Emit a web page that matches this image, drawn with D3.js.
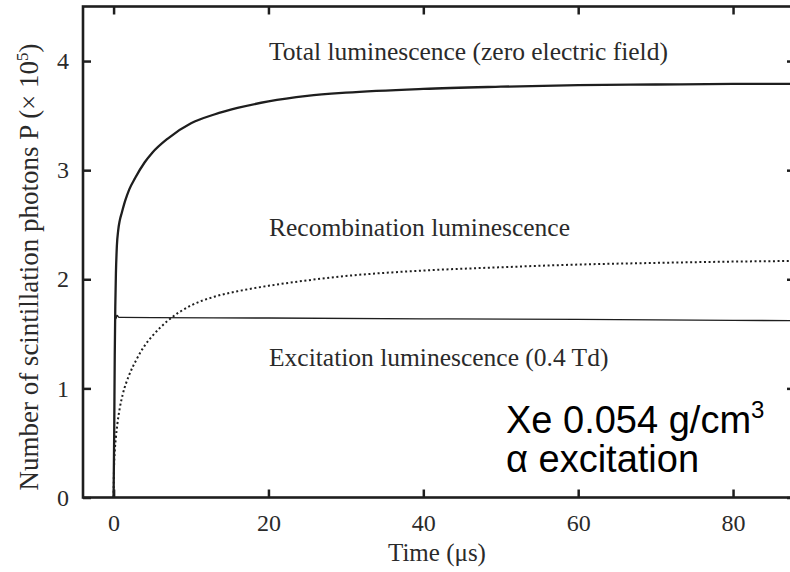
<!DOCTYPE html>
<html>
<head>
<meta charset="utf-8">
<script src="https://cdn.jsdelivr.net/npm/d3@7/dist/d3.min.js"></script>
<style>
  html, body { margin: 0; padding: 0; background: #fff; }
  svg { display: block; }
  .tick text { font-family: "Liberation Serif", "Times New Roman", serif; font-size: 24px; fill: #2a2a2a; }
</style>
</head>
<body>
<svg id="chart" width="790" height="572"></svg>
<script>
// Scintillation photon yield vs. time, Xe gas, alpha excitation
const xTicks = [0, 20, 40, 60, 80];
const yTicks = [0, 1, 2, 3, 4];

// Total luminescence (zero electric field)
const totalTime  = [0, 0.08, 0.15, 0.22, 0.3, 0.42, 0.6, 0.8, 1.06, 1.5, 2, 2.8, 4, 5, 7, 10, 13, 16, 20, 25, 30, 40, 50, 60, 70, 80, 88];
const totalValue = [0, 0.6, 1.3, 1.75, 2.05, 2.3, 2.45, 2.54, 2.61, 2.72, 2.82, 2.93, 3.07, 3.16, 3.29, 3.43, 3.51, 3.57, 3.63, 3.68, 3.71, 3.745, 3.765, 3.78, 3.785, 3.79, 3.79];

// Recombination luminescence
const recombTime  = [0, 0.05, 0.15, 0.3, 0.5, 0.8, 1.2, 2, 3, 4, 5, 7, 10, 13, 16, 20, 25, 30, 40, 50, 60, 70, 80, 88];
const recombValue = [0, 0.25, 0.42, 0.55, 0.68, 0.82, 0.95, 1.12, 1.27, 1.39, 1.48, 1.62, 1.76, 1.84, 1.89, 1.94, 1.99, 2.03, 2.08, 2.11, 2.135, 2.15, 2.162, 2.168];

// Excitation luminescence (0.4 Td)
const exciteTime  = [0.18, 0.25, 0.32, 0.45, 0.7, 1, 5, 20, 40, 60, 80, 88];
const exciteValue = [1.55, 1.68, 1.64, 1.67, 1.65, 1.65, 1.648, 1.645, 1.638, 1.632, 1.624, 1.62];

const labels = [
  { text: "Total luminescence (zero electric field)", x: 269, y: 60 },
  { text: "Recombination luminescence", x: 269, y: 236 },
  { text: "Excitation luminescence (0.4 Td)", x: 269, y: 366 }
];

const svg = d3.select("#chart");
const plotLeft = 83, plotRight = 795, plotTop = 6.5, plotBottom = 497.5;

const x = d3.scaleLinear().domain([-3.95, 88]).range([plotLeft, plotRight]);
const y = d3.scaleLinear().domain([0, 4.5]).range([plotBottom, plotTop]);

const ink = "#1e1e1e";
const fmt = d3.format("d");

// Axes with inward ticks on all four sides
const gx = svg.append("g").attr("transform", `translate(0,${plotBottom})`)
  .call(d3.axisBottom(x).tickValues(xTicks).tickFormat(fmt).tickSizeInner(-8).tickSizeOuter(0).tickPadding(16));
const gxTop = svg.append("g").attr("transform", `translate(0,${plotTop})`)
  .call(d3.axisTop(x).tickValues(xTicks).tickSizeInner(-8).tickSizeOuter(0).tickFormat(""));
const gy = svg.append("g").attr("transform", `translate(${plotLeft},0)`)
  .call(d3.axisLeft(y).tickValues(yTicks).tickFormat(fmt).tickSizeInner(-8).tickSizeOuter(0).tickPadding(14));
const gyRight = svg.append("g").attr("transform", `translate(${plotRight},0)`)
  .call(d3.axisRight(y).tickValues(yTicks).tickSizeInner(-8).tickSizeOuter(0).tickFormat(""));

[gx, gxTop, gy, gyRight].forEach(g => {
  g.select(".domain").remove();
  g.selectAll(".tick line").attr("stroke", ink).attr("stroke-width", 2.5);
});

// Frame
svg.append("rect")
  .attr("x", plotLeft).attr("y", plotTop)
  .attr("width", plotRight - plotLeft).attr("height", plotBottom - plotTop)
  .attr("fill", "none").attr("stroke", ink).attr("stroke-width", 2.6);

const line = d3.line().x(d => x(d[0])).y(d => y(d[1])).curve(d3.curveMonotoneX);

svg.append("path")
  .datum(d3.zip(recombTime, recombValue))
  .attr("d", line).attr("fill", "none").attr("stroke", ink)
  .attr("stroke-width", 2).attr("stroke-dasharray", "2,2.6");

svg.append("path")
  .datum(d3.zip(exciteTime, exciteValue))
  .attr("d", line).attr("fill", "none").attr("stroke", ink)
  .attr("stroke-width", 1.3);

svg.append("path")
  .datum(d3.zip(totalTime, totalValue))
  .attr("d", line).attr("fill", "none").attr("stroke", ink)
  .attr("stroke-width", 2.3);

// Curve labels
svg.selectAll("text.curve-label").data(labels).enter().append("text")
  .attr("class", "curve-label")
  .attr("x", d => d.x).attr("y", d => d.y)
  .attr("font-family", "'Liberation Serif', 'Times New Roman', serif")
  .attr("font-size", 25.5).attr("fill", "#2a2a2a")
  .text(d => d.text);

// Axis titles
svg.append("text")
  .attr("x", 437).attr("y", 561)
  .attr("text-anchor", "middle")
  .attr("font-family", "'Liberation Serif', 'Times New Roman', serif")
  .attr("font-size", 25).attr("fill", "#2a2a2a")
  .text("Time (μs)");

const yTitle = svg.append("text")
  .attr("transform", "translate(38,267) rotate(-90)")
  .attr("text-anchor", "middle")
  .attr("font-family", "'Liberation Serif', 'Times New Roman', serif")
  .attr("font-size", 27).attr("fill", "#2a2a2a");
yTitle.append("tspan").text("Number of scintillation photons P (× 10");
yTitle.append("tspan").attr("font-size", 17).attr("dy", -10).text("5");
yTitle.append("tspan").attr("dy", 10).text(")");

// Sample annotation
const note = svg.append("g")
  .attr("font-family", "'Liberation Sans', Arial, sans-serif")
  .attr("font-size", 38).attr("fill", "#000");
const l1 = note.append("text").attr("x", 506).attr("y", 433);
l1.append("tspan").text("Xe 0.054 g/cm");
l1.append("tspan").attr("font-size", 24).attr("dy", -15).text("3");
note.append("text").attr("x", 506).attr("y", 472).text("α excitation");
</script>
</body>
</html>
